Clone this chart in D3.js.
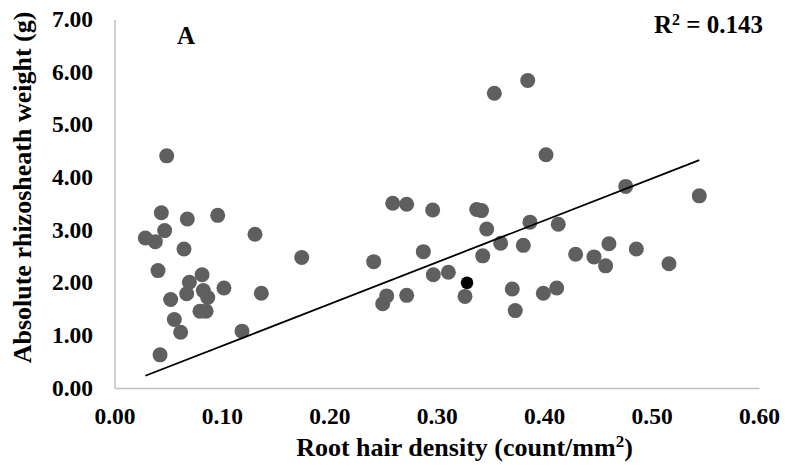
<!DOCTYPE html>
<html>
<head>
<meta charset="utf-8">
<script src="https://cdn.jsdelivr.net/npm/d3@7"></script>
<style>
  html, body { margin: 0; padding: 0; background: #fff; }
  text { font-family: "Liberation Serif", "Times New Roman", serif; font-weight: bold; fill: #000; }
</style>
</head>
<body>
<div id="chart"></div>
<script>
// root hair density (count/mm2) and absolute rhizosheath weight (g)
const density = [
  0.0486, 0.0436, 0.0678, 0.0961, 0.0467, 0.0287, 0.0380, 0.0647, 0.1308, 0.0405,
  0.0815, 0.0697, 0.1019, 0.1367, 0.0827, 0.0672, 0.0868, 0.0523, 0.0796, 0.0852,
  0.0557, 0.0616, 0.1187, 0.0424, 0.1743, 0.2413, 0.2534, 0.2497, 0.2590, 0.3536,
  0.3847, 0.4017, 0.2720, 0.2962, 0.3372, 0.3417, 0.3465, 0.3868, 0.4131, 0.2875,
  0.3595, 0.3806, 0.3428, 0.2968, 0.3108, 0.3263, 0.2720, 0.3703, 0.3731, 0.3992,
  0.4117, 0.4759, 0.5444, 0.4293, 0.4464, 0.4603, 0.4572, 0.4858, 0.5162
];
const weight = [
  4.41, 3.33, 3.21, 3.28, 2.99, 2.85, 2.78, 2.64, 2.92, 2.23,
  2.15, 2.01, 1.90, 1.80, 1.85, 1.79, 1.72, 1.68, 1.46, 1.46,
  1.30, 1.06, 1.08, 0.63, 2.48, 2.40, 1.75, 1.60, 3.51, 5.60,
  5.84, 4.43, 3.49, 3.38, 3.39, 3.37, 3.02, 3.15, 3.11, 2.59,
  2.75, 2.71, 2.51, 2.15, 2.20, 1.74, 1.76, 1.88, 1.47, 1.80,
  1.90, 3.83, 3.65, 2.54, 2.49, 2.74, 2.32, 2.64, 2.36
];
// highlighted sample
const highlight = [{ x: 0.3282, y: 2.00 }];

// linear trend line
const trendSlope = 7.94;
const trendIntercept = 0.005;
const rSquared = "0.143";

const xTicks = [0, 0.1, 0.2, 0.3, 0.4, 0.5, 0.6];
const yTicks = [0, 1, 2, 3, 4, 5, 6, 7];

const width = 785;
const height = 466;
const margin = { top: 19.5, right: 26, bottom: 78, left: 114.5 };

const x = d3.scaleLinear()
  .domain([0, 0.6])
  .range([margin.left, width - margin.right]);

const y = d3.scaleLinear()
  .domain([0, 7])
  .range([height - margin.bottom, margin.top]);

const svg = d3.select("#chart")
  .append("svg")
  .attr("width", width)
  .attr("height", height);

const xAxis = d3.axisBottom(x).tickValues(xTicks).tickFormat(d3.format(".2f")).tickSize(0).tickPadding(19);
const yAxis = d3.axisLeft(y).tickValues(yTicks).tickFormat(d3.format(".2f")).tickSize(0).tickPadding(21.5);

const gx = svg.append("g")
  .attr("transform", `translate(0, ${height - margin.bottom})`)
  .call(xAxis);

const gy = svg.append("g")
  .attr("transform", `translate(${margin.left}, 0)`)
  .call(yAxis);

[gx, gy].forEach(g => {
  g.attr("font-size", null).attr("font-family", null);
  g.select(".domain").attr("stroke", "#bfbfbf").attr("stroke-width", 1.5);
  g.selectAll("text")
    .attr("font-size", 23.5)
    .style("font-size", "23.5px")
    .attr("fill", "#000");
});
gy.selectAll("text").attr("dy", "0.3em");

// scatter points
const data = density.map((d, i) => ({ x: d, y: weight[i] }));

svg.selectAll(".dot")
  .data(data)
  .join("circle")
  .attr("class", "dot")
  .attr("cx", d => x(d.x))
  .attr("cy", d => y(d.y))
  .attr("r", 7.5)
  .attr("fill", "#5f5f5f");

svg.selectAll(".hl")
  .data(highlight)
  .join("circle")
  .attr("class", "hl")
  .attr("cx", d => x(d.x))
  .attr("cy", d => y(d.y))
  .attr("r", 6.3)
  .attr("fill", "#000");

// trend line across the data range
const [xMin, xMax] = d3.extent(density);
svg.append("line")
  .attr("x1", x(xMin))
  .attr("y1", y(trendSlope * xMin + trendIntercept))
  .attr("x2", x(xMax))
  .attr("y2", y(trendSlope * xMax + trendIntercept))
  .attr("stroke", "#000")
  .attr("stroke-width", 1.8);

// panel letter and R2
svg.append("text")
  .attr("x", 186)
  .attr("y", 43.5)
  .attr("text-anchor", "middle")
  .style("font-size", "25px")
  .text("A");

const r2 = svg.append("text")
  .attr("x", 763)
  .attr("y", 33)
  .attr("text-anchor", "end")
  .style("font-size", "25px");
r2.append("tspan").text("R");
r2.append("tspan").attr("dy", -8).style("font-size", "16px").text("2");
r2.append("tspan").attr("dy", 8).text(" = " + rSquared);

// axis titles
const xt = svg.append("text")
  .attr("x", 464.5)
  .attr("y", 456)
  .attr("text-anchor", "middle")
  .style("font-size", "26px");
xt.append("tspan").text("Root hair density (count/mm");
xt.append("tspan").attr("dy", -9).style("font-size", "17px").text("2");
xt.append("tspan").attr("dy", 9).text(")");

svg.append("text")
  .attr("transform", "translate(31, 187.5) rotate(-90)")
  .attr("text-anchor", "middle")
  .style("font-size", "26px")
  .text("Absolute rhizosheath weight (g)");
</script>
</body>
</html>
